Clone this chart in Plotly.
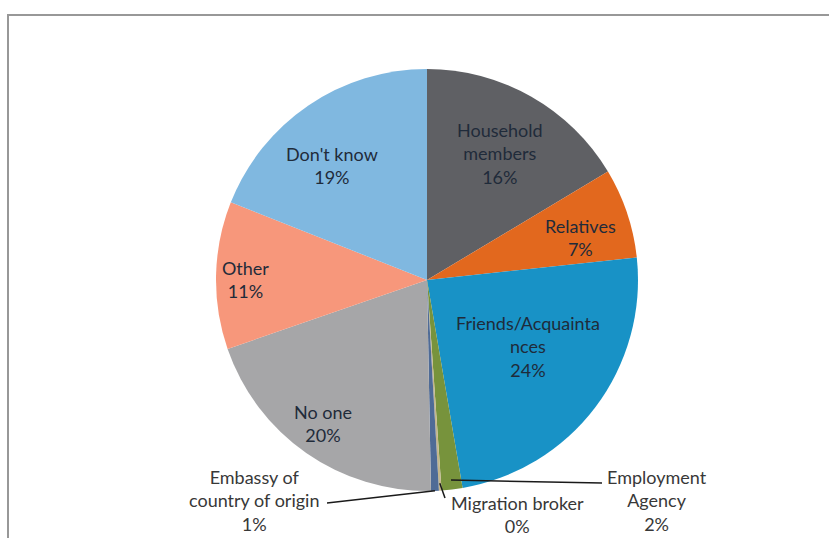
import math
import plotly.graph_objects as go

# Sources of help / information (share of respondents, %)
labels = [
    "Household members",
    "Relatives",
    "Friends/Acquaintances",
    "Employment Agency",
    "Migration broker",
    "Embassy of country of origin",
    "No one",
    "Other",
    "Don't know",
]
values = [16.4, 6.9, 24.0, 1.6, 0.2, 0.6, 20.0, 11.3, 19.0]
colors = [
    "#5f6064", "#e2681e", "#1892c6", "#77933c", "#c4b68c",
    "#4f6b96", "#a6a6a8", "#f7977b", "#80b8e0",
]

# Text shown for each slice (line breaks as drawn)
label_lines = [
    "Household<br>members",
    "Relatives",
    "Friends/Acquainta<br>nces",
    "Employment<br>Agency",
    "Migration broker",
    "Embassy of<br>country of origin",
    "No one",
    "Other",
    "Don't know",
]

W, H = 829, 538
CX, CY, R = 427, 280, 211  # pie centre and radius in pixels


def px(x):
    return x / W


def py(y):
    return 1 - y / H


fig = go.Figure(
    go.Pie(
        labels=labels,
        values=values,
        sort=False,
        direction="clockwise",
        rotation=0,
        marker=dict(colors=colors, line=dict(width=0)),
        textinfo="none",
        hoverinfo="label+percent",
        showlegend=False,
        domain=dict(x=[px(CX - R), px(CX + R)], y=[py(CY + R), py(CY - R)]),
    )
)

total = sum(values)
pct = [v / total * 100 for v in values]
pct_text = [f"{round(p)}%" for p in pct]

# Label centres (pixels) and whether the label sits inside the pie
label_pos = [
    (500, 154, True),
    (580, 237, True),
    (528, 346, True),
    (657, 501, False),
    (517, 514, False),
    (254, 501, False),
    (323, 423, True),
    (245, 279, True),
    (332, 165, True),
]

annotations = []
for i, (x, y, inside) in enumerate(label_pos):
    annotations.append(
        dict(
            x=px(x), y=py(y), xref="paper", yref="paper",
            text=f"{label_lines[i]}<br>{pct_text[i]}",
            showarrow=False,
            font=dict(family="Lato, Carlito, sans-serif", size=18,
                      color="#1f2b3a" if inside else "#383838"),
            align="center", xanchor="center", yanchor="middle",
        )
    )


def edge_point(idx, rfrac):
    """Pixel point at the angular middle of slice idx, rfrac of the radius out."""
    start = sum(values[:idx]) / total
    mid = (start + values[idx] / total / 2) * 2 * math.pi
    return CX + R * rfrac * math.sin(mid), CY - R * rfrac * math.cos(mid)


# Leader lines for the small slices: (slice index, radius fraction, label end)
leaders = [(3, 0.955, (602, 483)), (4, 0.965, (445, 498)), (5, 1.0, (327, 503))]
shapes = []
for idx, rf, (lx, ly) in leaders:
    ex, ey = edge_point(idx, rf)
    shapes.append(
        dict(type="line", xref="paper", yref="paper",
             x0=px(ex), y0=py(ey), x1=px(lx), y1=py(ly),
             line=dict(color="#1a1a1a", width=1.5))
    )

# Outer chart frame
shapes.append(
    dict(type="rect", xref="paper", yref="paper",
         x0=px(8), y0=-0.1, x1=1.1, y1=py(15),
         line=dict(color="#989898", width=2), fillcolor="rgba(0,0,0,0)",
         layer="below")
)

fig.update_layout(
    width=W, height=H,
    margin=dict(l=0, r=0, t=0, b=0),
    paper_bgcolor="white",
    plot_bgcolor="white",
    annotations=annotations,
    shapes=shapes,
)

fig.write_html("out.html")
